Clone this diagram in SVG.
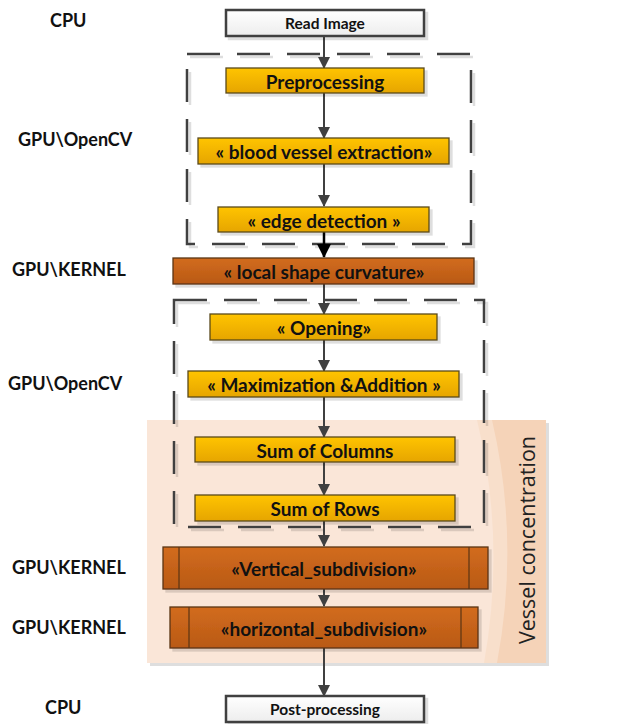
<svg xmlns="http://www.w3.org/2000/svg" width="628" height="724" viewBox="0 0 628 724">
<defs>
<linearGradient id="gy" x1="0" y1="0" x2="0" y2="1"><stop offset="0" stop-color="#FFC404"/><stop offset="1" stop-color="#E6A500"/></linearGradient>
<linearGradient id="gb" x1="0" y1="0" x2="0" y2="1"><stop offset="0" stop-color="#D26C1E"/><stop offset="1" stop-color="#B95915"/></linearGradient>
<linearGradient id="gw" x1="0" y1="0" x2="0" y2="1"><stop offset="0" stop-color="#FFFFFF"/><stop offset="1" stop-color="#EDEDED"/></linearGradient>
<filter id="sh" x="-10%" y="-10%" width="130%" height="140%"><feDropShadow dx="3" dy="3" stdDeviation="0.6" flood-color="#000" flood-opacity="0.13"/></filter>
<marker id="ah" markerWidth="12" markerHeight="12" refX="11" refY="6" orient="auto" markerUnits="userSpaceOnUse"><path d="M0,0 L12,6 L0,12 Z" fill="#404040"/></marker>
<marker id="ahk" markerWidth="14" markerHeight="14" refX="13" refY="7" orient="auto" markerUnits="userSpaceOnUse"><path d="M0,0 L14,7 L0,14 Z" fill="#000"/></marker>
</defs>
<style>
.lbl{font-family:"Lato","Liberation Sans",sans-serif;font-weight:bold;font-size:18px;fill:#111}
.t{font-family:"Lato","Liberation Sans",sans-serif;font-weight:bold;font-size:19px;fill:#111;text-anchor:middle;dominant-baseline:central}
.ts{font-family:"Lato","Liberation Sans",sans-serif;font-weight:bold;font-size:15.5px;fill:#111;text-anchor:middle;dominant-baseline:central}
.y{fill:url(#gy);stroke:#5A4A1A;stroke-width:1.3;filter:url(#sh)}
.b{fill:url(#gb);stroke:#5A3414;stroke-width:1.3;filter:url(#sh)}
.w{fill:url(#gw);stroke:#404040;stroke-width:2.5;filter:url(#sh)}
.in{stroke:#5A3414;stroke-width:1.2}
.dash{fill:none;stroke:#404040;stroke-width:2.5;stroke-dasharray:33 17;filter:url(#sh)}
.c{stroke:#404040;stroke-width:2;fill:none;marker-end:url(#ah)}
.ck{stroke:#000;stroke-width:2.5;fill:none;marker-end:url(#ahk)}
</style>

<g id="panel-vessel">
<rect x="147" y="420" width="399" height="243" fill="#F5D3B8" filter="url(#sh)"/>
<path d="M147,420 H492 Q520,540 497,663 H147 Z" fill="#F8DFCB"/>
<path d="M147,420 H477 Q506,540 484,663 H147 Z" fill="#FAE6D8"/>
<text x="526" y="540" transform="rotate(-90 526 540)" font-family="'Open Sans','Liberation Sans',sans-serif" font-size="21.5" fill="#222" text-anchor="middle" dominant-baseline="central">Vessel concentration</text>
</g>

<g id="separators">
<line x1="30" y1="46" x2="628" y2="46" class="dash"/>
<rect x="187" y="54" width="284" height="190" class="dash"/>
<rect x="174" y="300" width="310" height="227" class="dash"/>
<line x1="28" y1="677" x2="628" y2="677" class="dash"/>
</g>

<g id="labels">
<text x="50" y="27" class="lbl">CPU</text>
<text x="18" y="146" class="lbl">GPU\OpenCV</text>
<text x="12" y="276" class="lbl">GPU\KERNEL</text>
<text x="8" y="390" class="lbl">GPU\OpenCV</text>
<text x="12" y="574" class="lbl">GPU\KERNEL</text>
<text x="12" y="634" class="lbl">GPU\KERNEL</text>
<text x="45" y="714" class="lbl">CPU</text>
</g>

<g id="connectors">
<line x1="324" y1="37" x2="324" y2="68" class="c"/>
<line x1="324" y1="93" x2="324" y2="138" class="c"/>
<line x1="324" y1="164" x2="324" y2="206" class="c"/>
<line x1="324" y1="232" x2="324" y2="257" class="ck"/>
<line x1="324" y1="284" x2="324" y2="314" class="c"/>
<line x1="324" y1="340" x2="324" y2="371" class="c"/>
<line x1="324" y1="397" x2="324" y2="437" class="c"/>
<line x1="324" y1="462" x2="324" y2="495" class="c"/>
<line x1="324" y1="521" x2="324" y2="546" class="c"/>
<line x1="324" y1="589" x2="324" y2="606" class="c"/>
<line x1="324" y1="648" x2="324" y2="696" class="c"/>
</g>

<g id="n-read"><rect x="226" y="10" width="198" height="26" class="w"/><text x="325" y="23" class="ts">Read Image</text></g>
<g id="n-pre"><rect x="226" y="68" width="198" height="25" class="y"/><text x="325" y="81" class="t">Preprocessing</text></g>
<g id="n-blood"><rect x="198" y="138" width="251" height="26" class="y"/><text x="324" y="151" class="t">« blood vessel extraction»</text></g>
<g id="n-edge"><rect x="218" y="207" width="211" height="25" class="y"/><text x="324" y="220" class="t">« edge detection »</text></g>
<g id="n-curv"><rect x="173" y="258" width="301" height="26" class="b"/><text x="324" y="271" class="t">« local shape curvature»</text></g>
<g id="n-open"><rect x="210" y="314" width="227" height="26" class="y"/><text x="324" y="327" class="t">« Opening»</text></g>
<g id="n-max"><rect x="188" y="371" width="271" height="26" class="y"/><text x="324" y="384" class="t">« Maximization &amp;Addition »</text></g>
<g id="n-cols"><rect x="195" y="437" width="260" height="25" class="y"/><text x="325" y="450" class="t">Sum of Columns</text></g>
<g id="n-rows"><rect x="195" y="495" width="260" height="26" class="y"/><text x="325" y="508" class="t">Sum of Rows</text></g>
<g id="n-vert"><rect x="163" y="547" width="325" height="42" class="b"/><line x1="179" y1="547" x2="179" y2="589" class="in"/><line x1="469" y1="547" x2="469" y2="589" class="in"/><text x="324" y="568" class="t">«Vertical_subdivision»</text></g>
<g id="n-horiz"><rect x="170" y="607" width="308" height="41" class="b"/><line x1="189" y1="607" x2="189" y2="648" class="in"/><line x1="461" y1="607" x2="461" y2="648" class="in"/><text x="324" y="628" class="t">«horizontal_subdivision»</text></g>
<g id="n-post"><rect x="226" y="696" width="198" height="26" class="w"/><text x="325" y="709" class="ts">Post-processing</text></g>
</svg>
